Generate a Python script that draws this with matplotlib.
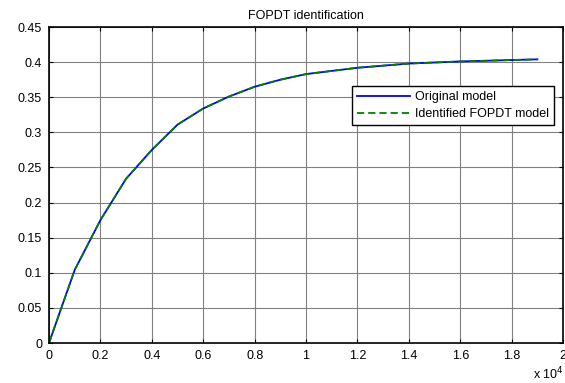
import matplotlib.pyplot as plt
from matplotlib.ticker import FuncFormatter, MultipleLocator

plt.rcParams['font.family'] = ['Liberation Sans', 'DejaVu Sans']

# step response samples (time in s)
t = [0, 1000, 2000, 3000, 4000, 5000, 6000, 7000, 8000, 9000,
     10000, 12000, 14000, 16000, 18000, 19000]
y_orig = [0, 0.104, 0.175, 0.234, 0.275, 0.311, 0.334, 0.351, 0.365, 0.375,
          0.383, 0.392, 0.398, 0.401, 0.403, 0.404]
y_fopdt = [0, 0.104, 0.175, 0.234, 0.275, 0.311, 0.334, 0.351, 0.365, 0.375,
           0.383, 0.392, 0.398, 0.401, 0.403, 0.404]

fs = 9

fig = plt.figure(figsize=(5.65, 3.83), dpi=100)
ax = fig.add_axes([0.0867, 0.1044, 0.91, 0.825])

ax.plot(t, y_orig, color='#0000ff', lw=1.3, label='Original model')
ax.plot(t, y_fopdt, color='#008000', lw=1.3, dashes=(4, 2.2),
        label='Identified FOPDT model')

ax.set_xlim(0, 20000)
ax.set_ylim(0, 0.45)
ax.xaxis.set_major_locator(MultipleLocator(2000))
ax.yaxis.set_major_locator(MultipleLocator(0.05))
ax.xaxis.set_major_formatter(FuncFormatter(lambda v, p: '%g' % (v / 1e4)))
ax.yaxis.set_major_formatter(FuncFormatter(lambda v, p: '%g' % round(v, 2)))

ax.grid(True, color='0.5', lw=0.8, ls='-')
ax.tick_params(direction='in', top=True, right=True, length=3, width=0.8,
               labelsize=fs, pad=5)
for s in ax.spines.values():
    s.set_linewidth(1.2)

ax.set_title('FOPDT identification', fontsize=fs, pad=6)
fig.text(0.997, 0.01, r'x 10$^4$', fontsize=fs, ha='right', va='baseline')

leg = ax.legend(loc='upper right', bbox_to_anchor=(0.9825, 0.813),
                borderaxespad=0, fontsize=fs, fancybox=False, framealpha=1,
                edgecolor='black', handlelength=4.2, handletextpad=0.45,
                labelspacing=0.4, borderpad=0.4)
leg.get_frame().set_linewidth(1.0)

fig.savefig('out.png', dpi=100)
